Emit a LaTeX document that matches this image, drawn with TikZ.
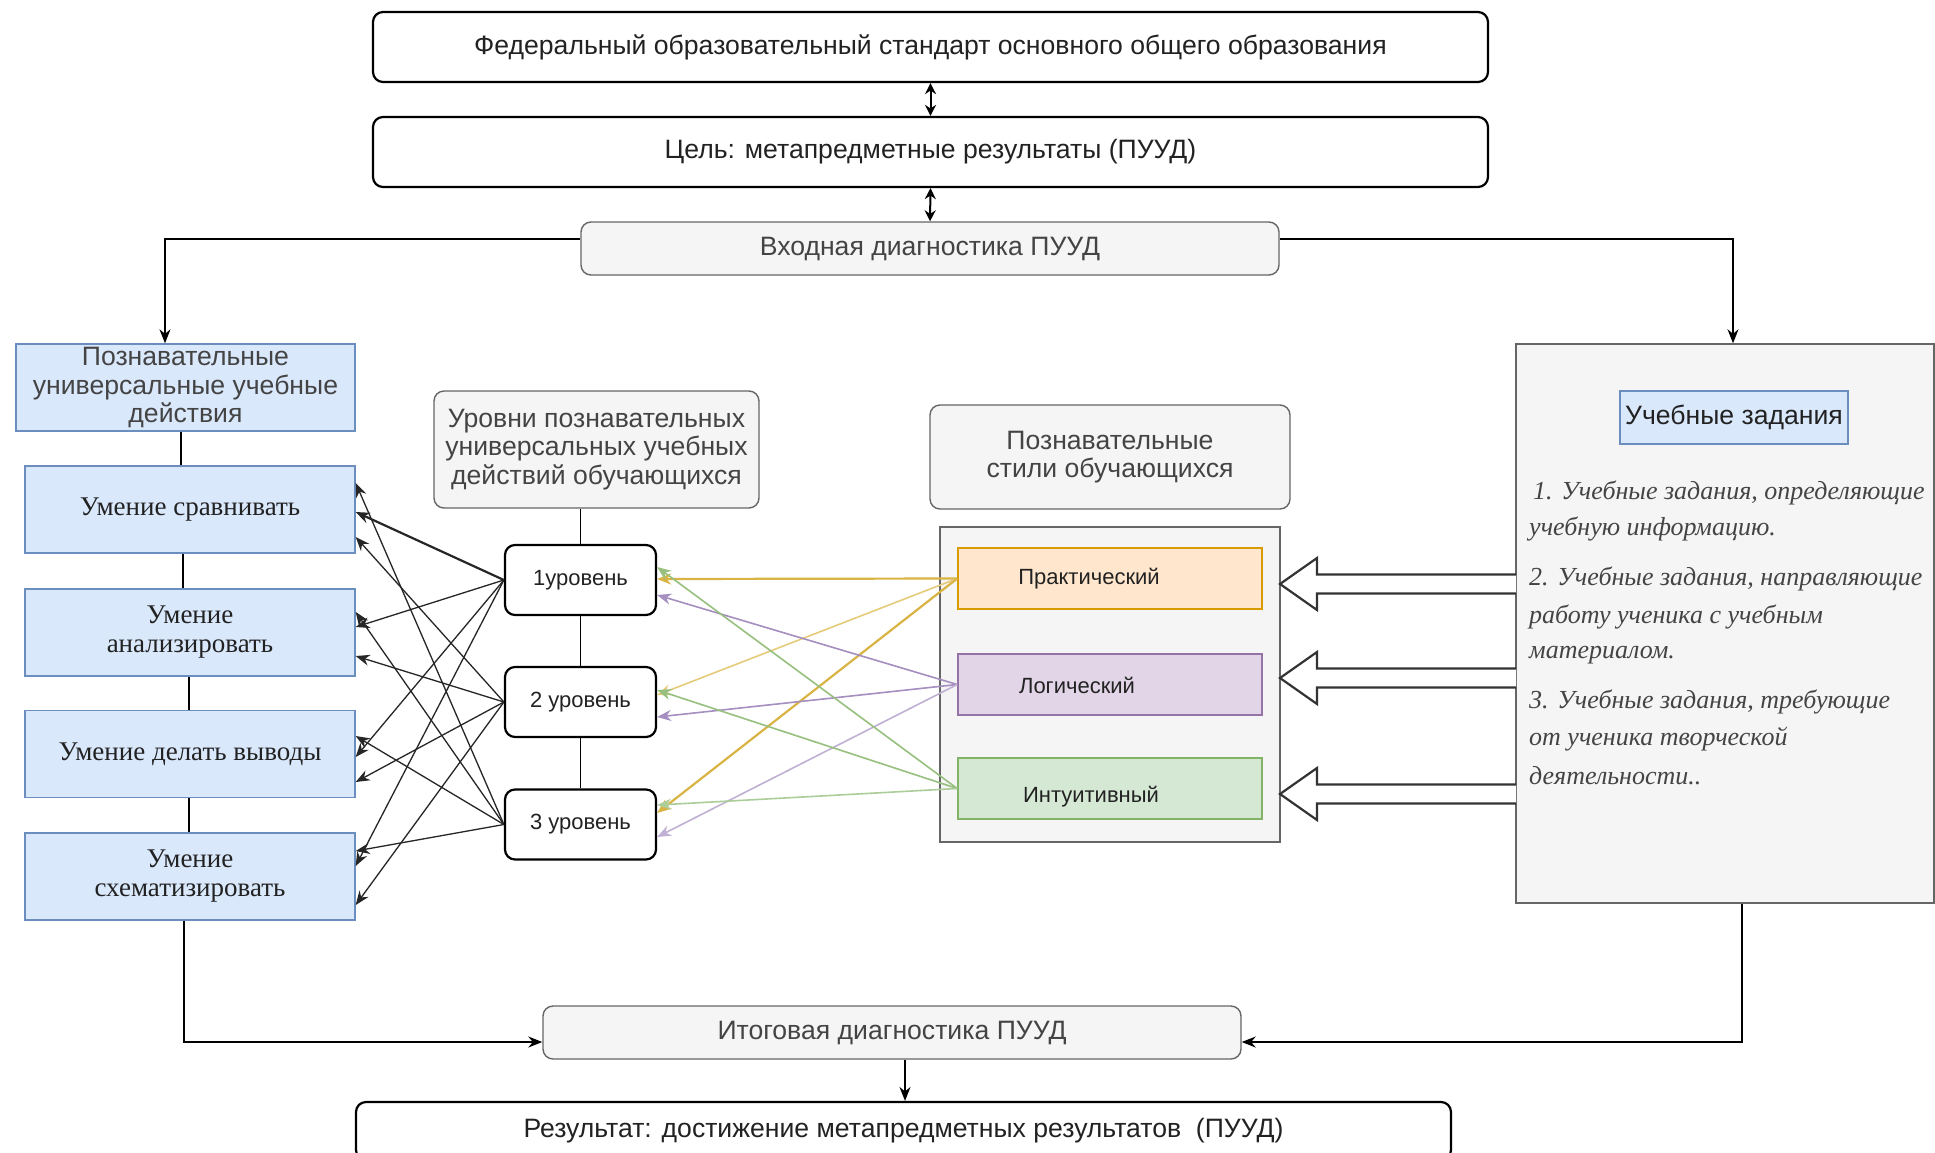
\documentclass[tikz,border=0pt]{standalone}
\usepackage{fontspec}
\setmainfont{Liberation Serif}
\setsansfont{Liberation Sans}
\usetikzlibrary{arrows.meta,calc}
\definecolor{txt}{HTML}{222222}
\definecolor{graytext}{HTML}{444444}
\definecolor{bluefill}{HTML}{DAE8FC}
\definecolor{blueline}{HTML}{6C8EBF}
\definecolor{grayfill}{HTML}{F5F5F5}
\definecolor{grayline}{HTML}{666666}
\definecolor{prfill}{HTML}{FFE6CC}
\definecolor{prline}{HTML}{D79B00}
\definecolor{lofill}{HTML}{E1D5E7}
\definecolor{loline}{HTML}{9673A6}
\definecolor{infill}{HTML}{D5E8D4}
\definecolor{inline}{HTML}{82B366}
\definecolor{yel}{HTML}{D9B444}
\definecolor{yellite}{HTML}{E6CB7A}
\definecolor{purp}{HTML}{A58EC0}
\definecolor{grn}{HTML}{97C07F}
\begin{document}
\begin{tikzpicture}[x=1pt,y=-1pt,
  base/.style={font=\sffamily\fontsize{26.6}{28.5}\selectfont, align=center, inner sep=0pt, text=txt},
  topbox/.style={base, draw=black, line width=2.2pt, rounded corners=10pt, fill=white},
  graybox/.style={base, draw=grayline, fill=grayfill, line width=1.4pt, rounded corners=10pt, text=graytext},
  bluebox/.style={base, draw=blueline, fill=bluefill, line width=1.4pt, text=graytext},
  skill/.style={draw=blueline, fill=bluefill, line width=1.4pt, align=center, inner sep=0pt,
     font=\rmfamily\fontsize{27}{29}\selectfont, text=txt, minimum width=330pt, minimum height=87pt},
  lvl/.style={base, draw=black, line width=2.2pt, rounded corners=10pt, fill=white,
     font=\sffamily\fontsize{22}{26}\selectfont, minimum width=151pt, minimum height=70pt},
  stylebox/.style={line width=1.6pt, minimum width=304pt, minimum height=61pt, inner sep=0pt},
  stylelabel/.style={font=\sffamily\fontsize{22}{26}\selectfont, text=txt, inner sep=0pt},
  ital/.style={font=\rmfamily\itshape\fontsize{26}{30}\selectfont, text=graytext, inner sep=0pt, anchor=west},
  arr/.style={-{Stealth[length=14pt,width=11pt]}, line width=1.6pt},
  dbl/.style={{Stealth[length=11pt,width=11pt]}-{Stealth[length=11pt,width=11pt]}, line width=2pt},
  blk/.style={-{Stealth[length=14pt,width=11pt]}, line width=1.3pt, draw=black!85},
  col/.style={-{Stealth[length=14pt,width=11pt]}, line width=1.6pt},
  hollow/.style={draw=black!80, fill=white, line width=2.2pt},
  ln/.style={line width=1.5pt}
]
\useasboundingbox[fill=white] (0,0) rectangle (1935,1152);

% top chain
\node[topbox, minimum width=1115pt, minimum height=70pt] (fgos) at (930.5,47) {Федеральный образовательный стандарт основного общего образования};
\node[topbox, minimum width=1115pt, minimum height=70pt] (goal) at (930.5,152) {Цель: метапредметные результаты (ПУУД)};
\node[graybox, minimum width=698pt, minimum height=53pt] (vhod) at (930,248.5) {Входная диагностика ПУУД};
\draw[dbl] (fgos.south) -- (goal.north);
\draw[dbl] (goal.south) -- (vhod.north);

% left column
\node[bluebox, minimum width=339pt, minimum height=87pt] (poz) at (185.5,387.5) {Познавательные\\универсальные учебные\\действия};
\node[skill] (s1) at (190,509.5) {Умение сравнивать};
\node[skill] (s2) at (190,632.5) {Умение\\анализировать};
\node[skill] (s3) at (190,754) {Умение делать выводы};
\node[skill] (s4) at (190,876.5) {Умение\\схематизировать};
\coordinate (xa) at (181,0);
\coordinate (xb) at (183,0);
\coordinate (xc) at (189,0);
\draw[ln] (poz.south -| xa) -- (s1.north -| xa);
\draw[ln] (s1.south -| xb) -- (s2.north -| xb);
\draw[ln] (s2.south -| xc) -- (s3.north -| xc);
\draw[ln] (s3.south -| xc) -- (s4.north -| xc);

% middle column
\node[graybox, minimum width=325pt, minimum height=117pt] (lv0) at (596.5,449.5) {Уровни познавательных\\универсальных учебных\\действий обучающихся};
\node[lvl] (l1) at (580.5,580) {1уровень};
\node[lvl] (l2) at (580.5,702) {2 уровень};
\node[lvl] (l3) at (580.5,824.5) {3 уровень};
\draw[ln] (lv0.south -| l1.north) -- (l1.north);
\draw[ln] (l1.south) -- (l2.north);
\draw[ln] (l2.south) -- (l3.north);

% styles
\node[graybox, minimum width=360pt, minimum height=104pt] (st0) at (1110,457) {Познавательные\\стили обучающихся};
\node[draw=grayline, fill=grayfill, line width=1.4pt, minimum width=340pt, minimum height=315pt, inner sep=0pt] (cont) at (1110,684.5) {};
\node[stylebox, draw=prline, fill=prfill] (pr) at (1110,578.5) {};
\node[stylebox, draw=loline, fill=lofill] (lo) at (1110,684.5) {};
\node[stylebox, draw=inline, fill=infill] (intu) at (1110,788.5) {};
\node[stylelabel] (prt) at (1089,579) {Практический};
\node[stylelabel] (lot) at (1077,685) {Логический};
\node[stylelabel] (intt) at (1091,797) {Интуитивный};

% right box
\node[draw=grayline, fill=grayfill, line width=1.4pt, minimum width=418pt, minimum height=559pt, inner sep=0pt] (rt) at (1725,623.5) {};
\node[bluebox, text=txt, minimum width=228pt, minimum height=53pt] (ut) at (1734,417.5) {Учебные задания};
\node[ital] (t1) at (1533,493) {1. Учебные задания, определяющие};
\node[ital] (t2) at (1529,529) {учебную информацию.};
\node[ital] (t3) at (1529,579) {2. Учебные задания, направляющие};
\node[ital] (t4) at (1529,617) {работу ученика с учебным};
\node[ital] (t5) at (1529,655) {материалом.};
\node[ital] (t6) at (1529,702) {3. Учебные задания, требующие};
\node[ital] (t7) at (1529,739) {от ученика творческой};
\node[ital] (t8) at (1529,776) {деятельности..};

% hollow arrows
\foreach \c in {584,678,794}
  \draw[hollow] (1516,\c-9.5) -- (1317,\c-9.5) -- (1317,\c-26) -- (1280,\c) -- (1317,\c+26) -- (1317,\c+9.5) -- (1516,\c+9.5);

% bottom
\node[graybox, minimum width=698pt, minimum height=53pt] (itog) at (892,1032.5) {Итоговая диагностика ПУУД};
\node[topbox, minimum width=1095pt, minimum height=58pt] (res) at (903.5,1131) {Результат: достижение метапредметных результатов\ \ (ПУУД)};

% connectors from Входная
\coordinate (c1) at (165,239);
\coordinate (c2) at (1733,239);
\draw[arr] ([yshift=9.5pt]vhod.west) -- (c1) -- (c1 |- poz.north);
\draw[arr] ([yshift=9.5pt]vhod.east) -- (c2) -- (c2 |- rt.north);

% connectors to Итоговая
\coordinate (c3) at (184,1042);
\coordinate (c4) at (1742,1042);
\coordinate (c5) at (905,0);
\draw[arr] (s4.south -| c3) -- (c3) -- (c3 -| itog.west);
\draw[arr] (rt.south -| c4) -- (c4) -- (c4 -| itog.east);
\draw[arr] (itog.south -| c5) -- (res.north -| c5);

% level -> skill crossings
\foreach \s/\l/\d in {s1/l3/26.5, s1/l2/-27.5, s2/l3/20.5, s2/l1/5.5, s2/l2/-23.5, s3/l3/18, s3/l1/-3, s3/l2/-28, s4/l3/25.5, s4/l1/10.5, s4/l2/-28.5}
  \draw[blk] (\l.west) -- ([yshift=\d pt]\s.east);
\draw[blk, line width=2.2pt] (l1.west) -- ([yshift=-2.5pt]s1.east);

% style -> level arrows
\draw[col, draw=yel, line width=2.2pt] (pr.west) -- ([yshift=1pt]l1.east);
\draw[col, draw=yellite] (pr.west) -- ([yshift=7pt]l2.east);
\draw[col, draw=yel, line width=2.2pt] (pr.west) -- ([yshift=11.5pt]l3.east);
\draw[col, draw=purp] (lo.west) -- ([yshift=-15pt]l1.east);
\draw[col, draw=purp] (lo.west) -- ([yshift=-15pt]l2.east);
\draw[col, draw=purp!70] (lo.west) -- ([yshift=-12.5pt]l3.east);
\draw[col, draw=grn] (intu.west) -- ([yshift=13pt]l1.east);
\draw[col, draw=grn] (intu.west) -- ([yshift=12pt]l2.east);
\draw[col, draw=grn!80] (intu.west) -- ([yshift=19.5pt]l3.east);
\end{tikzpicture}
\end{document}
